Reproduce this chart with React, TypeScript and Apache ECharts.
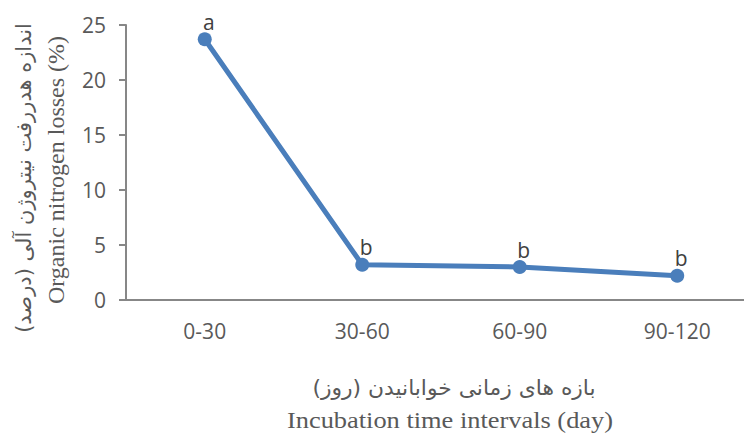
import React, { useEffect, useRef } from "react";
import * as echarts from "echarts";

const categories = ["0-30", "30-60", "60-90", "90-120"];
const lossValues = [23.7, 3.2, 3.0, 2.2];
const letters = ["a", "b", "b", "b"];
const yTicks = { min: 0, max: 25, interval: 5 };

const xTitleFa = "بازه های زمانی خوابانیدن (روز)\u200F";
const xTitleEn = "Incubation time intervals (day)";
const yTitleFa = "اندازه هدررفت نیتروژن آلی (درصد)\u200F";
const yTitleEn = "Organic nitrogen losses (%)";

export default function App() {
  const ref = useRef<HTMLDivElement>(null);
  useEffect(() => {
    if (!ref.current) return;
    const chart = echarts.init(ref.current, undefined, { renderer: "svg" });
    const labelFont = "Open Sans, Liberation Sans, sans-serif";
    chart.setOption({
      animation: false,
      backgroundColor: "#ffffff",
      grid: {
        left: 126,
        width: 630,
        top: 25,
        bottom: 135,
        containLabel: false,
        outerBoundsMode: "none",
      },
      xAxis: {
        type: "category",
        data: categories,
        boundaryGap: true,
        axisLine: { lineStyle: { color: "#878787", width: 2 } },
        axisTick: { show: false },
        axisLabel: { color: "#595959", fontSize: 21, margin: 20, fontFamily: labelFont },
        splitLine: { show: false },
      },
      yAxis: {
        type: "value",
        min: yTicks.min,
        max: yTicks.max,
        interval: yTicks.interval,
        axisLine: { show: true, lineStyle: { color: "#878787", width: 2 } },
        axisTick: { show: true, length: 7, lineStyle: { color: "#878787", width: 2 } },
        axisLabel: { color: "#595959", fontSize: 21, margin: 20, fontFamily: labelFont },
        splitLine: { show: false },
      },
      series: [
        {
          type: "line",
          data: lossValues.map((v, i) => ({
            value: v,
            label: { formatter: letters[i] },
          })),
          symbol: "circle",
          symbolSize: 14,
          lineStyle: { color: "#4a7ebb", width: 5 },
          itemStyle: { color: "#4a7ebb" },
          label: {
            show: true,
            position: "top",
            distance: 2,
            offset: [4, 2],
            color: "#404040",
            fontSize: 21,
            fontFamily: labelFont,
          },
        },
      ],
      graphic: [
        {
          type: "text",
          x: 454,
          y: 388,
          scaleX: 1.04,
          style: {
            text: xTitleFa,
            fontSize: 21,
            fontFamily: "DejaVu Sans, sans-serif",
            fill: "#595959",
            textAlign: "center",
            textVerticalAlign: "middle",
          },
        },
        {
          type: "text",
          x: 450,
          y: 420,
          scaleX: 1.1,
          style: {
            text: xTitleEn,
            fontSize: 24,
            fontFamily: "Liberation Serif, serif",
            fill: "#595959",
            textAlign: "center",
            textVerticalAlign: "middle",
          },
        },
        {
          type: "text",
          x: 24,
          y: 178,
          rotation: Math.PI / 2,
          style: {
            text: yTitleFa,
            fontSize: 21,
            fontFamily: "DejaVu Sans, sans-serif",
            fill: "#595959",
            textAlign: "center",
            textVerticalAlign: "middle",
          },
        },
        {
          type: "text",
          x: 56,
          y: 170,
          rotation: Math.PI / 2,
          style: {
            text: yTitleEn,
            fontSize: 24,
            fontFamily: "Liberation Serif, serif",
            fill: "#595959",
            textAlign: "center",
            textVerticalAlign: "middle",
          },
        },
      ],
    });
    return () => chart.dispose();
  }, []);
  return <div ref={ref} style={{ width: 744, height: 435, position: "absolute", left: 0, top: 0 }} />;
}
